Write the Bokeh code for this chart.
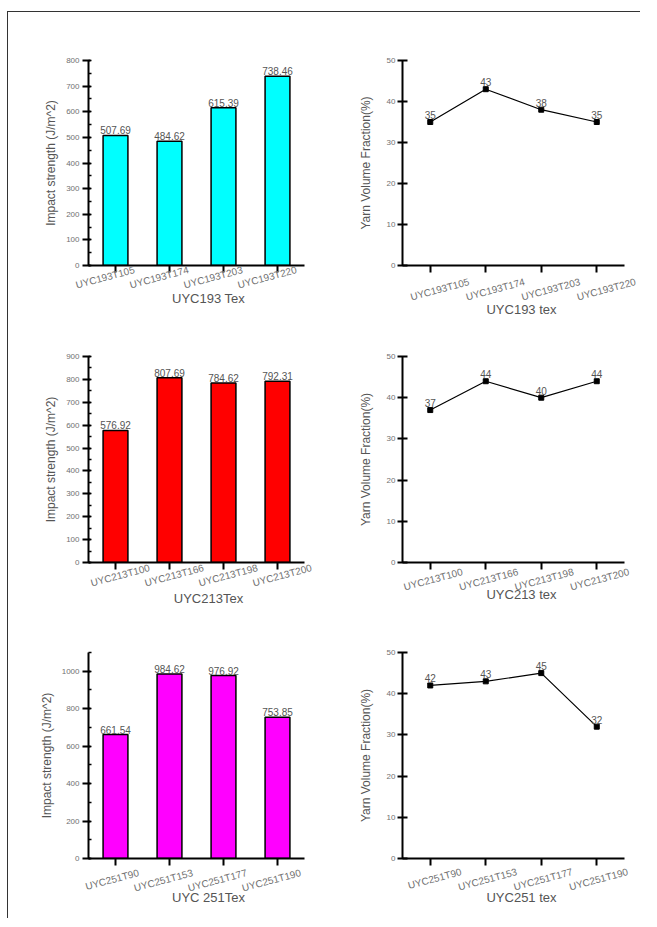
from bokeh.plotting import figure
from bokeh.layouts import column, row
from bokeh.models import (Range1d, SingleIntervalTicker, FixedTicker, LinearAxis)
from bokeh.embed import file_html
from bokeh.resources import INLINE
from bokeh.core.properties import value

# ---------------- data ----------------
cats_193 = ["UYC193T105", "UYC193T174", "UYC193T203", "UYC193T220"]
impact_193 = [507.69, 484.62, 615.39, 738.46]
yvf_193 = [35, 43, 38, 35]

cats_213 = ["UYC213T100", "UYC213T166", "UYC213T198", "UYC213T200"]
impact_213 = [576.92, 807.69, 784.62, 792.31]
yvf_213 = [37, 44, 40, 44]

cats_251 = ["UYC251T90", "UYC251T153", "UYC251T177", "UYC251T190"]
impact_251 = [661.54, 984.62, 976.92, 753.85]
yvf_251 = [42, 43, 45, 32]

bar_titles = ["UYC193 Tex", "UYC213Tex", "UYC 251Tex"]
line_titles = ["UYC193 tex", "UYC213 tex", "UYC251 tex"]
bar_colors = ["#00FFFF", "#FF0000", "#FF00FF"]
bar_ymax = [800, 900, 1100]
bar_step = [100, 100, 200]
line_ymax = 50
line_step = 10

FONT = "Liberation Sans"
TICK_COL = "#707070"
TITLE_COL = "#555555"
ANGLE = 0.26


def cat_pos(cats):
    # category slots: centre of slot i
    return [i + 0.5 for i in range(len(cats))]


def style_axes(p, cats, x_end, xtitle, ytitle, ytick_out, ylabel_stand, ytitle_stand,
               shift, lab_stand, title_stand):
    n = len(cats)
    xs = cat_pos(cats)
    xa = p.xaxis[0]
    xa.ticker = FixedTicker(ticks=xs, minor_ticks=[])
    xa.bounds = (0, n)
    for ax in (xa, p.yaxis[0]):
        ax.axis_line_width = 2
        ax.axis_line_color = "black"
        ax.major_tick_line_width = 2
        ax.major_tick_line_color = "black"
        ax.minor_tick_line_color = "black"
        ax.minor_tick_line_width = 1.5
        ax.major_label_text_font = FONT
        ax.major_label_text_color = TICK_COL
        ax.axis_label_text_font = FONT
        ax.axis_label_text_color = TITLE_COL
        ax.axis_label_text_font_style = "normal"
    xa.major_label_text_font_size = "0px"
    xa.major_label_text_alpha = 0
    xa.major_tick_in = 0
    xa.major_tick_out = 7
    xa.major_label_standoff = 0
    ya = p.yaxis[0]
    ya.axis_label = ytitle
    ya.axis_label_text_font_size = "12px"
    ya.major_label_text_font_size = "8px"
    ya.major_tick_in = 2
    ya.major_tick_out = ytick_out
    ya.minor_tick_in = 3
    ya.minor_tick_out = 0
    ya.major_label_standoff = ylabel_stand
    ya.axis_label_standoff = ytitle_stand
    p.xgrid.visible = False
    p.ygrid.visible = False
    p.outline_line_color = None
    # label-only axis: slanted category labels, slightly shifted like the original
    p.extra_x_ranges = {"lab": Range1d(-shift, x_end - shift)}
    lab = LinearAxis(x_range_name="lab", ticker=FixedTicker(ticks=xs, minor_ticks=[]),
                     major_label_overrides={t: c for t, c in zip(xs, cats)},
                     axis_line_color=None, major_tick_line_color=None,
                     minor_tick_line_color=None, major_tick_in=0, major_tick_out=0,
                     major_label_orientation=ANGLE, major_label_standoff=lab_stand,
                     major_label_text_font=FONT, major_label_text_font_size="10px",
                     major_label_text_color=TICK_COL)
    p.add_layout(lab, "below")
    # title-only axis, centred on the visible axis
    tax = LinearAxis(ticker=FixedTicker(ticks=[], minor_ticks=[]), bounds=(0, n),
                     axis_line_color=None, major_tick_line_color=None,
                     minor_tick_line_color=None, major_tick_in=0, major_tick_out=0,
                     major_label_standoff=0, major_label_text_font_size="0px",
                     axis_label=xtitle, axis_label_standoff=title_stand,
                     axis_label_text_font=FONT, axis_label_text_font_size="13px",
                     axis_label_text_color=TITLE_COL, axis_label_text_font_style="normal")
    p.add_layout(tax, "below")


def bar_fig(cats, vals, color, ymax, step, xtitle, btop, fh, bbot, lo):
    xs = cat_pos(cats)
    fw, ext = 216, 24
    x_end = len(cats) * (fw + ext) / fw
    p = figure(x_range=Range1d(0, x_end), y_range=Range1d(0, ymax),
               frame_width=fw + ext, frame_height=fh,
               min_border_left=80, min_border_right=1,
               min_border_top=btop, min_border_bottom=bbot,
               output_backend="svg", toolbar_location=None)
    p.yaxis[0].ticker = SingleIntervalTicker(interval=step, num_minor_ticks=2)
    p.vbar(x=xs, top=vals, width=0.46, fill_color=color,
           line_color="black", line_width=1.5)
    p.text(x=xs, y=vals, text=[f"{v:.2f}" for v in vals],
           text_align="center", text_baseline="bottom", y_offset=-1,
           text_font=value(FONT), text_font_size="10px", text_color="#555555")
    style_axes(p, cats, x_end, xtitle, "Impact strength (J/m^2)", 6, 3, 5, *lo)
    return p


def line_fig(cats, vals, xtitle, btop, fh, bbot, lo):
    xs = cat_pos(cats)
    fw, ext = 222, 16
    x_end = len(cats) * (fw + ext) / fw
    p = figure(x_range=Range1d(0, x_end), y_range=Range1d(0, line_ymax),
               frame_width=fw + ext, frame_height=fh,
               min_border_left=73, min_border_right=0,
               min_border_top=btop, min_border_bottom=bbot,
               output_backend="svg", toolbar_location=None)
    p.yaxis[0].ticker = SingleIntervalTicker(interval=line_step, num_minor_ticks=0)
    p.line(x=xs, y=vals, line_color="black", line_width=1.2)
    p.scatter(x=xs, y=vals, marker="square", size=5, color="black")
    p.text(x=xs, y=vals, text=[str(v) for v in vals],
           text_align="center", text_baseline="bottom", y_offset=-3,
           text_font=value(FONT), text_font_size="10px", text_color="#555555")
    style_axes(p, cats, x_end, xtitle, "Yarn Volume Fraction(%)", 5, 2, 11, *lo)
    p.yaxis[0].major_tick_in = 5
    return p


# (border top, frame height, border bottom) per row
rows_spec = [(48, 205, 60), (31, 206, 60), (30, 206, 60)]
# (label shift in category units, label standoff, title standoff) for (bar, line)
lab_opts = [((0.35, -3, -8), (0.70, 9, -9)),
            ((0.63, -2, -6), (0.58, 2, -14)),
            ((0.43, 7, -12), (0.56, 6, -11))]
data = [(cats_193, impact_193, yvf_193), (cats_213, impact_213, yvf_213),
        (cats_251, impact_251, yvf_251)]

rows = []
for i, (cats, imp, yvf) in enumerate(data):
    bt, fh, bb = rows_spec[i]
    pb = bar_fig(cats, imp, bar_colors[i], bar_ymax[i], bar_step[i], bar_titles[i],
                 bt, fh, bb, lab_opts[i][0])
    pl = line_fig(cats, yvf, line_titles[i], bt, fh, bb, lab_opts[i][1])
    rows.append(row(pb, pl))

layout = column(*rows, margin=(11, 0, 0, 7),
                styles={"border-left": "1px solid #333333", "border-top": "1px solid #333333"})

open("out.html", "w").write(file_html(layout, INLINE))
